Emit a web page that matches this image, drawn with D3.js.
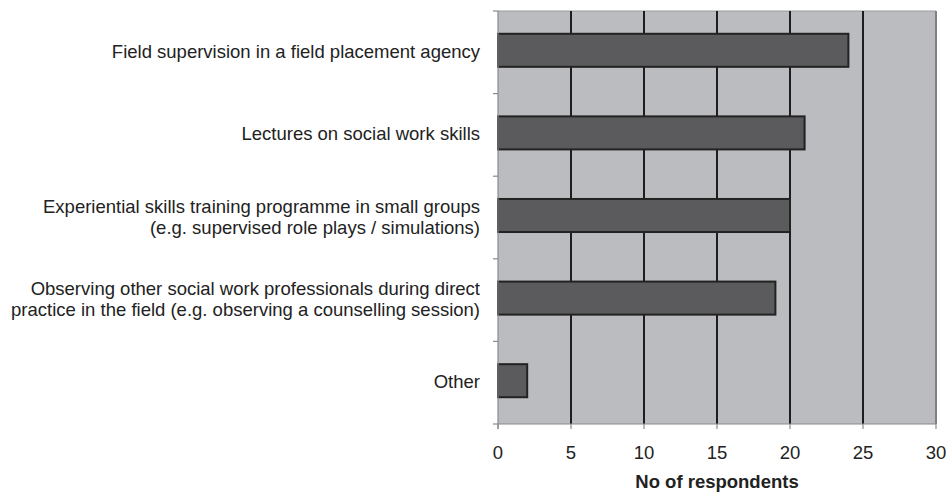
<!DOCTYPE html>
<html><head><meta charset="utf-8">
<script src="https://cdn.jsdelivr.net/npm/d3@7"></script>
<style>body{margin:0;background:#fff}svg{display:block}text{font-family:"Liberation Sans",Arial,sans-serif}</style>
</head><body>
<svg id="c" width="946" height="492"></svg>
<script>
const categories = [
  ["Field supervision in a field placement agency"],
  ["Lectures on social work skills"],
  ["Experiential skills training programme in small groups", "(e.g. supervised role plays / simulations)"],
  ["Observing other social work professionals during direct", "practice in the field (e.g. observing a counselling session)"],
  ["Other"]
];
const values = [24, 21, 20, 19, 2];
const xTicks = [0, 5, 10, 15, 20, 25, 30];
const xTitle = "No of respondents";

const svg = d3.select("#c");
const L = 498, R = 936, T = 11, B = 424;
const FS = 18.5;
const x = d3.scaleLinear().domain([0, 30]).range([L, R]);
const y = d3.scaleBand().domain(d3.range(categories.length)).range([T, B]).paddingInner(0.6).paddingOuter(0.3);
const yb = d3.scaleBand().domain(d3.range(categories.length)).range([T, B]);

svg.append("rect").attr("x", L).attr("y", T).attr("width", R - L).attr("height", B - T)
  .attr("fill", "#bbbcc0");
svg.append("line").attr("x1", L).attr("x2", R).attr("y1", T).attr("y2", T).attr("stroke", "#9a9a9e").attr("stroke-width", 1);
svg.append("line").attr("x1", R).attr("x2", R).attr("y1", T).attr("y2", B).attr("stroke", "#808084").attr("stroke-width", 2);
svg.selectAll(".grid").data(xTicks.filter(d => d > 0 && d < 30)).join("line")
  .attr("x1", d => x(d)).attr("x2", d => x(d)).attr("y1", T).attr("y2", B)
  .attr("stroke", "#1e1e1e").attr("stroke-width", 2);

svg.selectAll(".bar").data(values).join("rect")
  .attr("x", x(0)).attr("y", (d, i) => y(i) - 2).attr("width", d => x(d) - x(0)).attr("height", y.bandwidth())
  .attr("fill", "#5b5b5d").attr("stroke", "#222").attr("stroke-width", 2);

const axisCol = "#8a8a8a";
svg.append("line").attr("x1", L).attr("x2", L).attr("y1", T).attr("y2", B + 5).attr("stroke", axisCol).attr("stroke-width", 1.2);
svg.selectAll(".yt").data(d3.range(categories.length + 1)).join("line")
  .attr("x1", L - 5).attr("x2", L).attr("y1", i => T + i * yb.bandwidth()).attr("y2", i => T + i * yb.bandwidth())
  .attr("stroke", axisCol).attr("stroke-width", 1.2);
svg.append("line").attr("x1", L).attr("x2", R).attr("y1", B).attr("y2", B).attr("stroke", axisCol).attr("stroke-width", 1.2);
svg.selectAll(".xt").data(xTicks).join("line")
  .attr("x1", d => x(d)).attr("x2", d => x(d)).attr("y1", B).attr("y2", B + 5)
  .attr("stroke", axisCol).attr("stroke-width", 1.2);
svg.selectAll(".xl").data(xTicks).join("text")
  .attr("x", d => x(d)).attr("y", 459).attr("text-anchor", "middle")
  .attr("font-size", FS).attr("fill", "#222").text(d => d);
svg.append("text").attr("x", 717).attr("y", 488).attr("text-anchor", "middle")
  .attr("font-size", FS).attr("font-weight", "bold").attr("fill", "#222").text(xTitle);

categories.forEach((lines, i) => {
  const cy = y(i) - 1 + y.bandwidth() / 2;
  const n = lines.length, lh = 21;
  lines.forEach((ln, j) => {
    svg.append("text").attr("x", 480).attr("y", cy + (j - (n - 1) / 2) * lh + 6.5)
      .attr("text-anchor", "end").attr("font-size", FS).attr("fill", "#222").text(ln);
  });
});
</script>
</body></html>
